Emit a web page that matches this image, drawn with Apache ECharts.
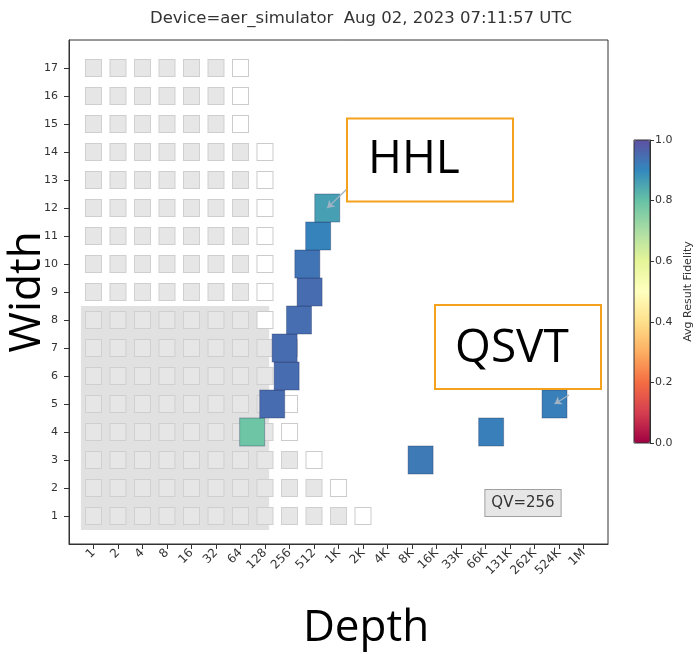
<!DOCTYPE html>
<html>
<head>
<meta charset="utf-8">
<script src="https://cdn.jsdelivr.net/npm/echarts@6/dist/echarts.min.js"></script>
<style>
  html, body { margin: 0; padding: 0; background: #ffffff; }
  #chart { width: 700px; height: 654px; }
</style>
</head>
<body>
<div id="chart"></div>
<script>
// Depth axis: power-of-two circuit depths and their printed labels
const depthTickValues = [1, 2, 4, 8, 16, 32, 64, 128, 256, 512, 1024, 2048, 4096, 8192,
  16384, 32768, 65536, 131072, 262144, 524288, 1048576];
const depthTickLabels = ['1', '2', '4', '8', '16', '32', '64', '128', '256', '512', '1K', '2K',
  '4K', '8K', '16K', '33K', '66K', '131K', '262K', '524K', '1M'];

// Width axis ticks (qubits)
const widthTicks = [1, 2, 3, 4, 5, 6, 7, 8, 9, 10, 11, 12, 13, 14, 15, 16, 17];

// Volumetric background: for each width, how many depth cells are shaded;
// the next cell is drawn as an empty outline
const bgWidths = [1, 2, 3, 4, 5, 6, 7, 8, 9, 10, 11, 12, 13, 14, 15, 16, 17];
const bgShadedCells = [11, 10, 9, 8, 8, 8, 8, 7, 7, 7, 7, 7, 7, 7, 6, 6, 6];

// Quantum-volume region (depth range, width range) and its label
const qvDepthRange = [0.7, 144];
const qvWidthRange = [0.5, 8.5];
const qvLabel = 'QV=256';

// Application results: HHL (widths 4-12) and QSVT (widths 3-5)
const resultDepth    = [89, 157, 236, 223, 335, 452, 424, 576, 745, 10440, 76900, 462000];
const resultWidth    = [4, 5, 6, 7, 8, 9, 10, 11, 12, 3, 4, 5];
const resultFidelity = [0.79, 0.95, 0.95, 0.95, 0.945, 0.95, 0.935, 0.91, 0.86, 0.925, 0.915, 0.915];

// Colour bar ticks
const fidelityTicks = [0, 0.2, 0.4, 0.6, 0.8, 1.0];

const titleText = 'Device=aer_simulator  Aug 02, 2023 07:11:57 UTC';

// Spectral colour map, low to high
const spectral = ['#9e0142', '#d53e4f', '#f46d43', '#fdae61', '#fee08b', '#ffffbf',
  '#e6f598', '#abdda4', '#66c2a5', '#3288bd', '#5e4fa2'];

const lg = Math.log2;

const shadedCells = [];
const emptyCells = [];
bgWidths.forEach((w, k) => {
  const n = bgShadedCells[k];
  for (let i = 0; i < n; i++) shadedCells.push([lg(depthTickValues[i]), w]);
  emptyCells.push([lg(depthTickValues[n]), w]);
});

const results = resultDepth.map((d, i) => [lg(d), resultWidth[i], resultFidelity[i]]);

const tickFont = 'DejaVu Sans';
const bigFont = 'Open Sans';

const chart = echarts.init(document.getElementById('chart'), null, { renderer: 'canvas' });

chart.setOption({
  animation: false,
  backgroundColor: '#ffffff',
  grid: [
    { left: 69, top: 40, width: 539, height: 504, show: true, containLabel: false,
      outerBoundsMode: 'none',
      borderColor: '#333333', borderWidth: 1, backgroundColor: 'transparent' },
    { left: 634, top: 140, width: 16, height: 303, show: true, z: 10, containLabel: false,
      outerBoundsMode: 'none',
      borderColor: '#333333', borderWidth: 1, backgroundColor: 'transparent' }
  ],
  xAxis: [
    {
      gridIndex: 0, type: 'value', min: -1, max: 21, interval: 1,
      splitLine: { show: false },
      axisLine: { show: true, onZero: false, lineStyle: { color: '#333333' } },
      axisTick: { show: true, length: 5, customValues: depthTickValues.map(lg),
        lineStyle: { color: '#333333' } },
      axisLabel: {
        customValues: depthTickValues.map(lg),
        rotate: 45, margin: 7, fontSize: 12, fontFamily: tickFont, color: '#333333',
        formatter: v => depthTickLabels[Math.round(v)] || ''
      }
    },
    { gridIndex: 1, type: 'value', min: 0, max: 1, show: false }
  ],
  yAxis: [
    {
      gridIndex: 0, type: 'value', min: 0, max: 18, interval: 1,
      splitLine: { show: false },
      axisLine: { show: true, onZero: false, lineStyle: { color: '#333333' } },
      axisTick: { show: true, length: 5, customValues: widthTicks,
        lineStyle: { color: '#333333' } },
      axisLabel: { customValues: widthTicks, margin: 11, fontSize: 11,
        fontFamily: tickFont, color: '#333333' },
      name: 'Width', nameLocation: 'middle', nameRotate: 90, nameGap: 20,
      nameMoveOverlap: false,
      nameTextStyle: { fontSize: 44, fontFamily: bigFont, color: '#000000' }
    },
    {
      gridIndex: 1, type: 'value', min: 0, max: 1, interval: 0.2, position: 'right',
      splitLine: { show: false },
      axisLine: { show: true, onZero: false, lineStyle: { color: '#333333' } },
      axisTick: { show: true, length: 4, customValues: fidelityTicks,
        lineStyle: { color: '#333333' } },
      axisLabel: { customValues: fidelityTicks, margin: 5, fontSize: 11,
        fontFamily: tickFont, color: '#333333', formatter: v => v.toFixed(1) },
      name: 'Avg Result Fidelity', nameLocation: 'middle', nameRotate: 90, nameGap: 33,
      nameTextStyle: { fontSize: 11, fontFamily: tickFont, color: '#333333' }
    }
  ],
  visualMap: {
    type: 'continuous', min: 0, max: 1, seriesIndex: 3, dimension: 2,
    calculable: false, hoverLink: false, showLabel: false, text: null,
    left: 634, top: 140, itemWidth: 16, itemHeight: 303, padding: 0,
    inRange: { color: spectral }
  },
  graphic: [
    { type: 'text', x: 361, y: 19, z: 20,
      style: { text: titleText, fontSize: 16.5, fontFamily: tickFont, fill: '#333333',
        align: 'center', verticalAlign: 'middle' } },
    { type: 'text', x: 366, y: 628, z: 20,
      style: { text: 'Depth', fontSize: 44, fontFamily: bigFont, fill: '#000000',
        align: 'center', verticalAlign: 'middle' } },
    { type: 'rect', z: 20, shape: { x: 347, y: 118.5, width: 166, height: 83 },
      style: { fill: '#ffffff', stroke: '#f4a21e', lineWidth: 2 } },
    { type: 'text', x: 368, y: 160, z: 21,
      style: { text: 'HHL', fontSize: 46, fontFamily: bigFont, fill: '#000000',
        align: 'left', verticalAlign: 'middle' } },
    { type: 'rect', z: 20, shape: { x: 435, y: 305, width: 166, height: 84 },
      style: { fill: '#ffffff', stroke: '#f4a21e', lineWidth: 2 } },
    { type: 'text', x: 512, y: 349, z: 21,
      style: { text: 'QSVT', fontSize: 46, fontFamily: bigFont, fill: '#000000',
        align: 'center', verticalAlign: 'middle' } },
    { type: 'text', x: 523, y: 503, z: 20,
      style: { text: qvLabel, fontSize: 15, fontFamily: tickFont, fill: '#333333',
        align: 'center', verticalAlign: 'middle',
        backgroundColor: '#e6e6e6', borderColor: '#a0a0a0', borderWidth: 1,
        padding: [6, 6, 5, 6] } }
  ],
  series: [
    {
      // shaded quantum-volume region
      type: 'scatter', xAxisIndex: 0, yAxisIndex: 0, data: [], z: 1, silent: true,
      markArea: {
        silent: true,
        itemStyle: { color: '#e1e1e1' },
        data: [[
          { coord: [lg(qvDepthRange[0]), qvWidthRange[0]] },
          { coord: [lg(qvDepthRange[1]), qvWidthRange[1]] }
        ]]
      }
    },
    {
      type: 'scatter', xAxisIndex: 0, yAxisIndex: 0, data: shadedCells, z: 2, silent: true,
      symbol: 'rect', symbolSize: [16, 17],
      itemStyle: { color: '#e6e6e6', borderColor: '#cfcfcf', borderWidth: 1, opacity: 1 }
    },
    {
      type: 'scatter', xAxisIndex: 0, yAxisIndex: 0, data: emptyCells, z: 2, silent: true,
      symbol: 'rect', symbolSize: [16, 17],
      itemStyle: { color: '#ffffff', borderColor: '#cbcbcb', borderWidth: 1, opacity: 1 }
    },
    {
      type: 'scatter', xAxisIndex: 0, yAxisIndex: 0, data: results, z: 3,
      symbol: 'rect', symbolSize: [25, 28],
      itemStyle: { borderColor: 'rgba(30,40,90,0.35)', borderWidth: 1, opacity: 1 },
      markLine: {
        silent: true, animation: false,
        symbol: ['none', 'arrow'], symbolSize: 7,
        label: { show: false },
        lineStyle: { color: '#9fb3c4', width: 1.3, type: 'solid' },
        data: [
          [ { x: 348, y: 188 },
            { coord: [lg(resultDepth[8]), resultWidth[8]], itemStyle: { color: '#26344d' } } ],
          [ { x: 569, y: 395 },
            { coord: [lg(resultDepth[11]), resultWidth[11]], itemStyle: { color: '#26344d' } } ]
        ]
      }
    }
  ]
});
</script>
</body>
</html>
